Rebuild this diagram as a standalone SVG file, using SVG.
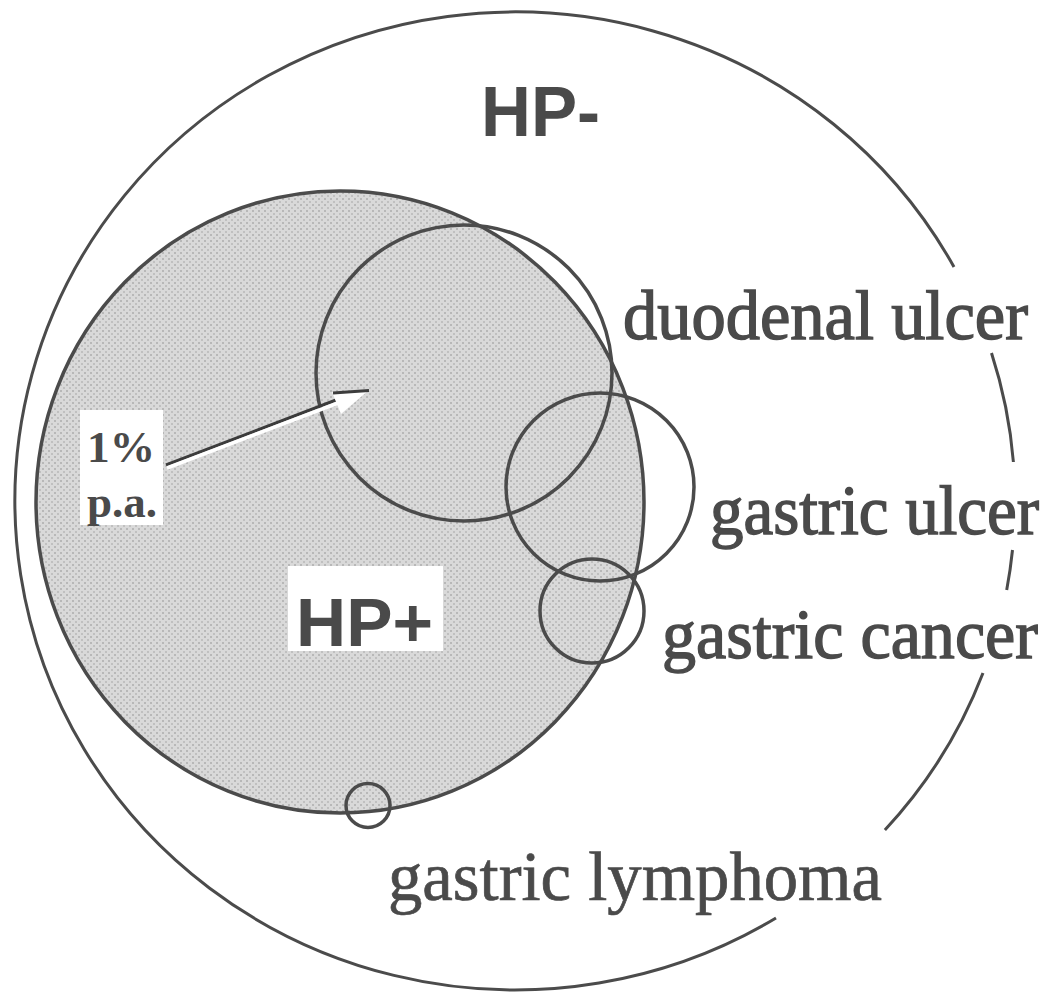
<svg xmlns="http://www.w3.org/2000/svg" width="1051" height="994" viewBox="0 0 1051 994">
  <defs>
    <pattern id="stip" width="6" height="6" patternUnits="userSpaceOnUse">
      <rect width="6" height="6" fill="#d9d9d9"/>
      <rect x="0" y="0" width="2" height="2" fill="#b8b8b8"/>
      <rect x="3" y="3" width="2" height="2" fill="#c0c0c0"/>
    </pattern>
    <style>
      .line { fill: none; stroke: #4b4b4b; stroke-width: 3.5; }
      .outer { fill: none; stroke: #4b4b4b; stroke-width: 3; }
      .lbl { font-family: "Liberation Serif", "Times New Roman", serif; font-size: 69px; fill: #4a4a4a; stroke: #4a4a4a; stroke-width: 1.4; }
      .light { stroke-width: 0.7; }
      .small { font-family: "Liberation Serif", "Times New Roman", serif; font-size: 45px; font-weight: bold; fill: #4a4a4a; }
      .hp { font-family: "Liberation Sans", Arial, sans-serif; font-weight: bold; fill: #4a4a4a; }
    </style>
  </defs>

  <rect width="1051" height="994" fill="#ffffff"/>

  <g id="hp-negative">
    <path class="outer" d="M 776 918 A 500 489 0 1 1 954 267"/>
    <path class="outer" d="M 991.5 353 A 500 489 0 0 1 1013.4 462"/>
    <path class="outer" d="M 1012.5 550 A 500 489 0 0 1 1006.7 590"/>
    <path class="outer" d="M 983 673 A 500 489 0 0 1 884.9 830"/>
    <text class="hp" x="481" y="136" font-size="71" textLength="119" lengthAdjust="spacingAndGlyphs">HP-</text>
  </g>

  <g id="hp-positive">
    <ellipse cx="340" cy="502" rx="304" ry="311" fill="url(#stip)"/>
    <rect x="288" y="566" width="155" height="85" fill="#ffffff"/>
    <text class="hp" x="296" y="646" font-size="69" textLength="137" lengthAdjust="spacingAndGlyphs">HP+</text>
  </g>

  <g id="duodenal-ulcer">
    <circle class="line" cx="464" cy="373" r="148"/>
    <text class="lbl" x="623" y="339" textLength="405" lengthAdjust="spacingAndGlyphs">duodenal ulcer</text>
  </g>

  <g id="gastric-ulcer">
    <circle class="line" cx="600" cy="487" r="94"/>
    <text class="lbl" x="710" y="534" textLength="329" lengthAdjust="spacingAndGlyphs">gastric ulcer</text>
  </g>

  <g id="gastric-cancer">
    <circle class="line" cx="592" cy="611" r="52"/>
    <text class="lbl" x="662" y="658" textLength="376" lengthAdjust="spacingAndGlyphs">gastric cancer</text>
  </g>

  <g id="gastric-lymphoma">
    <circle class="line" cx="368" cy="805.5" r="22"/>
    <text class="lbl light" x="388" y="900" textLength="494" lengthAdjust="spacingAndGlyphs">gastric lymphoma</text>
  </g>

  <g id="hp-positive-border">
    <ellipse class="line" cx="340" cy="502" rx="304" ry="311"/>
  </g>

  <g id="rate-label">
    <rect x="80" y="410" width="83" height="115" fill="#ffffff"/>
    <text class="small" x="87" y="462" textLength="68" lengthAdjust="spacingAndGlyphs">1%</text>
    <text class="small" x="87" y="517" textLength="70" lengthAdjust="spacingAndGlyphs">p.a.</text>
  </g>

  <g id="connectors">
    <line x1="166" y1="465" x2="336" y2="400" stroke="#3c3c3c" stroke-width="3"/>
    <line x1="167" y1="468" x2="338" y2="403" stroke="#ffffff" stroke-width="3.5"/>
    <polygon points="369,390 332,392 341,414" fill="#ffffff"/>
    <line x1="333" y1="393" x2="369" y2="390.5" stroke="#3c3c3c" stroke-width="3"/>
  </g>
</svg>
